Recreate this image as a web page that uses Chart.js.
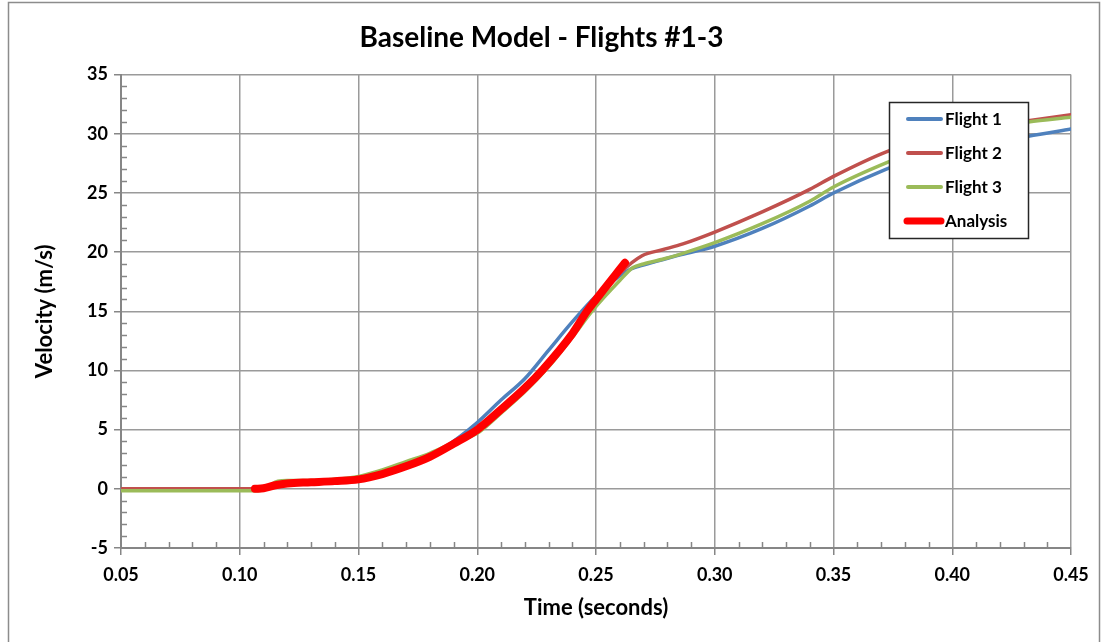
<!DOCTYPE html>
<html>
<head>
<meta charset="utf-8">
<title>Baseline Model - Flights #1-3</title>
<script src="https://cdn.jsdelivr.net/npm/chart.js@4.4.1/dist/chart.umd.min.js"></script>
<style>
  html, body { margin: 0; padding: 0; background: #fff; }
  #wrap { width: 1102px; height: 642px; }
</style>
</head>
<body>
<div id="wrap"><canvas id="velocity-chart" width="1102" height="642"></canvas></div>
<script>
// Vitesse mesurée pour chaque vol (temps en s, vitesse en m/s)
var tempsVol1 = [0.05, 0.08, 0.108, 0.113, 0.118, 0.125, 0.135, 0.15, 0.16, 0.17, 0.18, 0.187, 0.20, 0.21, 0.22, 0.23, 0.24, 0.25, 0.26, 0.265, 0.268, 0.275, 0.286, 0.30, 0.32, 0.34, 0.35, 0.372, 0.39, 0.41, 0.432, 0.45];
var vitesseVol1 = [-0.1, -0.1, -0.1, 0.3, 0.5, 0.55, 0.65, 0.95, 1.4, 2.0, 2.8, 3.6, 5.6, 7.5, 9.3, 11.7, 14.1, 16.3, 18.0, 18.6, 18.8, 19.2, 19.8, 20.5, 22.0, 23.9, 25.0, 27.0, 28.3, 29.3, 29.8, 30.4];

var tempsVol2 = [0.05, 0.08, 0.108, 0.112, 0.118, 0.13, 0.15, 0.17, 0.19, 0.20, 0.22, 0.24, 0.25, 0.26, 0.2694, 0.278, 0.2866, 0.30, 0.32, 0.34, 0.35, 0.3725, 0.39, 0.41, 0.432, 0.45];
var vitesseVol2 = [0.0, 0.0, 0.0, 0.2, 0.5, 0.55, 0.8, 1.9, 3.8, 5.0, 8.6, 13.2, 15.8, 18.2, 19.7, 20.2, 20.7, 21.7, 23.4, 25.3, 26.4, 28.5, 29.6, 30.5, 31.1, 31.6];

var tempsVol3 = [0.05, 0.08, 0.108, 0.112, 0.116, 0.12, 0.13, 0.14, 0.15, 0.16, 0.17, 0.18, 0.19, 0.20, 0.21, 0.22, 0.23, 0.24, 0.2487, 0.26, 0.2656, 0.27, 0.28, 0.2866, 0.30, 0.32, 0.34, 0.35, 0.3729, 0.39, 0.41, 0.432, 0.45];
var vitesseVol3 = [-0.17, -0.17, -0.17, 0.2, 0.65, 0.7, 0.7, 0.8, 1.05, 1.6, 2.3, 3.0, 3.9, 4.7, 6.4, 8.2, 10.3, 12.8, 15.1, 17.6, 18.7, 19.0, 19.5, 19.9, 20.8, 22.4, 24.3, 25.5, 27.6, 28.9, 30.1, 31.0, 31.4];

// Courbe de l'analyse (modèle de référence)
var tempsAnalyse = [0.1064, 0.110, 0.115, 0.12, 0.13, 0.14, 0.15, 0.16, 0.17, 0.18, 0.19, 0.20, 0.21, 0.22, 0.2277, 0.24, 0.2462, 0.25, 0.2622];
var vitesseAnalyse = [0.0, 0.05, 0.3, 0.45, 0.55, 0.65, 0.8, 1.25, 1.9, 2.7, 3.8, 5.0, 6.7, 8.5, 10.1, 13.1, 15.0, 16.0, 19.1];

// Graduations des axes
var ticksTemps = [0.05, 0.10, 0.15, 0.20, 0.25, 0.30, 0.35, 0.40, 0.45];
var ticksVitesse = [-5, 0, 5, 10, 15, 20, 25, 30, 35];

var nomsSeries = ['Flight 1', 'Flight 2', 'Flight 3', 'Analysis'];
var couleursSeries = ['#4F81BD', '#C0504D', '#9BBB59', '#FF0000'];

function enPoints(t, v) {
  return t.map(function (x, i) { return { x: x, y: v[i] }; });
}

var police = "Lato, 'Open Sans', sans-serif";
var gris = '#9a9a9a';
var grisAxe = '#868686';

// Cadre et fond du graphique
var cadrePlugin = {
  id: 'cadre',
  beforeDraw: function (chart) {
    var ctx = chart.ctx;
    ctx.save();
    ctx.fillStyle = '#fff';
    ctx.fillRect(0, 0, chart.width, chart.height);
    ctx.strokeStyle = '#8c8c8c';
    ctx.lineWidth = 1.5;
    ctx.strokeRect(8.5, 2.5, 1091, 700);
    ctx.restore();
  }
};

// Petites graduations à l'intérieur des axes
var grad2Plugin = {
  id: 'graduationsSecondaires',
  beforeDatasetsDraw: function (chart) {
    var ctx = chart.ctx, xs = chart.scales.x, ys = chart.scales.y;
    ctx.save();
    ctx.strokeStyle = grisAxe;
    ctx.lineWidth = 1.5;
    ctx.beginPath();
    for (var v = -4; v < 35; v++) {
      if (v % 5 === 0) continue;
      var py = Math.round(ys.getPixelForValue(v)) + 0.5;
      ctx.moveTo(xs.left, py);
      ctx.lineTo(xs.left + 6, py);
    }
    for (var k = 6; k < 45; k++) {
      if (k % 5 === 0) continue;
      var px = Math.round(xs.getPixelForValue(k / 100)) + 0.5;
      ctx.moveTo(px, ys.bottom);
      ctx.lineTo(px, ys.bottom - 6);
    }
    ctx.stroke();
    ctx.restore();
  }
};

// Légende encadrée dans la zone de tracé
var legendePlugin = {
  id: 'legendeCadre',
  afterDraw: function (chart) {
    var ctx = chart.ctx;
    var bx = 889, by = 102, bw = 139, bh = 136;
    ctx.save();
    ctx.fillStyle = '#fff';
    ctx.fillRect(bx, by, bw, bh);
    ctx.strokeStyle = '#262626';
    ctx.lineWidth = 1.5;
    ctx.strokeRect(bx + 0.5, by + 0.5, bw, bh);
    ctx.font = 'bold 17px ' + police;
    ctx.textBaseline = 'middle';
    chart.data.datasets.forEach(function (ds, i) {
      var y = by + 17 + i * 34;
      ctx.strokeStyle = ds.borderColor;
      ctx.lineWidth = i === 3 ? 7 : 4;
      ctx.lineCap = 'round';
      ctx.beginPath();
      ctx.moveTo(i === 3 ? 907 : 908, y);
      ctx.lineTo(941, y);
      ctx.stroke();
      ctx.fillStyle = '#000';
      ctx.fillText(ds.label, 945, y + 1);
    });
    ctx.restore();
  }
};

var series = [
  enPoints(tempsVol1, vitesseVol1),
  enPoints(tempsVol2, vitesseVol2),
  enPoints(tempsVol3, vitesseVol3),
  enPoints(tempsAnalyse, vitesseAnalyse)
];

var ctx = document.getElementById('velocity-chart').getContext('2d');
var velocityChart = new Chart(ctx, {
  type: 'line',
  data: {
    datasets: series.map(function (pts, i) {
      return {
        label: nomsSeries[i],
        data: pts,
        borderColor: couleursSeries[i],
        backgroundColor: couleursSeries[i],
        borderWidth: i === 3 ? 8 : 3.5,
        borderCapStyle: 'round',
        borderJoinStyle: 'round',
        pointRadius: 0,
        cubicInterpolationMode: 'monotone',
        order: 3 - i
      };
    })
  },
  options: {
    responsive: false,
    animation: false,
    layout: { padding: { left: 12, right: 31, top: 0, bottom: 10 } },
    plugins: {
      legend: { display: false },
      tooltip: { enabled: false },
      title: {
        display: true,
        text: 'Baseline Model - Flights #1-3',
        color: '#000',
        font: { family: police, size: 28, weight: 'bold', lineHeight: 1.2 },
        padding: { top: 21, bottom: 20 }
      }
    },
    scales: {
      x: {
        type: 'linear',
        min: 0.05,
        max: 0.45,
        afterBuildTicks: function (scale) {
          scale.ticks = ticksTemps.map(function (v) { return { value: v }; });
        },
        afterFit: function (scale) { scale.height = 84; },
        ticks: {
          color: '#000',
          padding: 9,
          maxRotation: 0,
          font: { family: police, size: 18, weight: 'bold' },
          callback: function (v) { return Number(v).toFixed(2); }
        },
        grid: { color: gris, lineWidth: 1.5, tickLength: 7, tickColor: grisAxe },
        border: { color: grisAxe, width: 2 },
        title: {
          display: true,
          text: 'Time (seconds)',
          color: '#000',
          font: { family: police, size: 22, weight: 'bold', lineHeight: 1.2 },
          padding: { top: 4, bottom: 11 }
        }
      },
      y: {
        type: 'linear',
        min: -5,
        max: 35,
        afterBuildTicks: function (scale) {
          scale.ticks = ticksVitesse.map(function (v) { return { value: v }; });
        },
        afterFit: function (scale) { scale.width = 109; },
        ticks: {
          color: '#000',
          padding: 6,
          font: { family: police, size: 18, weight: 'bold' }
        },
        grid: { color: gris, lineWidth: 1.5, tickLength: 7, tickColor: grisAxe },
        border: { color: grisAxe, width: 2 },
        title: {
          display: true,
          text: 'Velocity (m/s)',
          color: '#000',
          font: { family: police, size: 22, weight: 'bold', lineHeight: 1.2 },
          padding: { top: 20, bottom: 0 }
        }
      }
    }
  },
  plugins: [cadrePlugin, grad2Plugin, legendePlugin]
});
</script>
</body>
</html>
